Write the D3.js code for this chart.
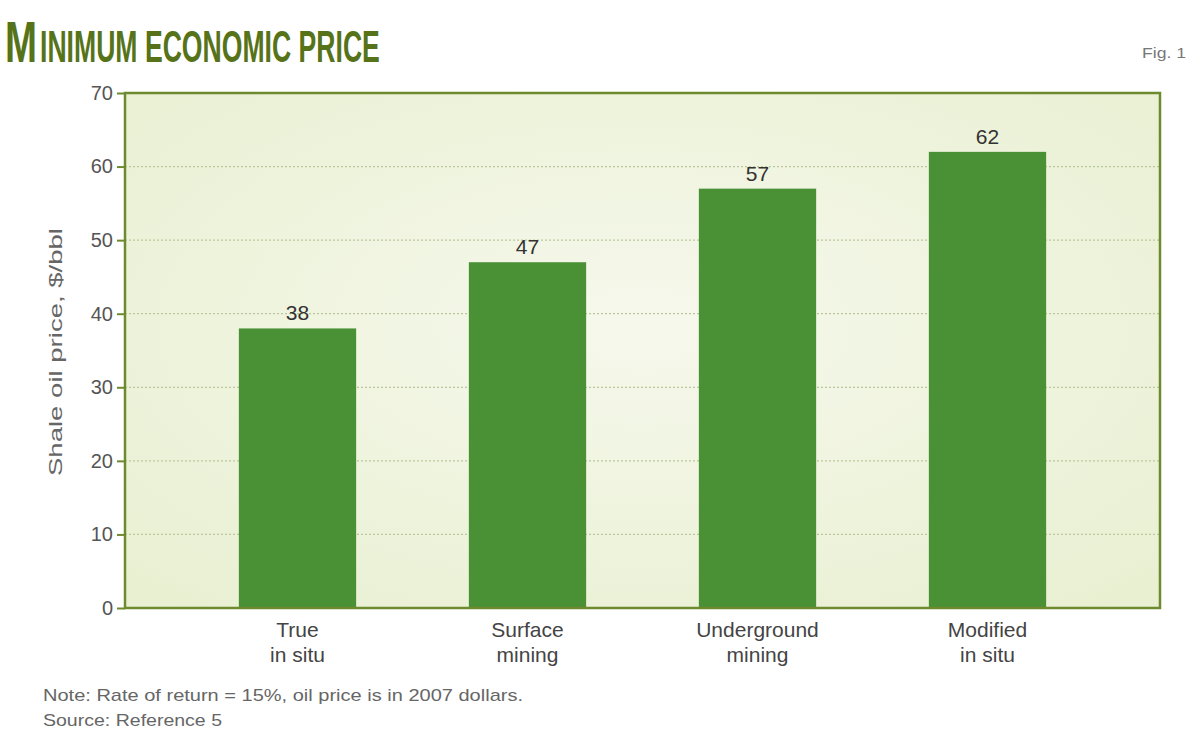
<!DOCTYPE html>
<html>
<head>
<meta charset="utf-8">
<script src="https://cdn.jsdelivr.net/npm/d3@7"></script>
<style>
  body { margin: 0; background: #fff; }
  text { font-family: "Liberation Sans", Arial, sans-serif; }
</style>
</head>
<body>
<div id="chart"></div>
<script>
const categories = [["True", "in situ"], ["Surface", "mining"], ["Underground", "mining"], ["Modified", "in situ"]];
const values = [38, 47, 57, 62];
const yTicks = [0, 10, 20, 30, 40, 50, 60, 70];

const width = 1200, height = 738;
const plotLeft = 125, plotRight = 1160, plotTop = 93, plotBottom = 608;
const narrow = "'DejaVu Sans Condensed', 'Liberation Sans Narrow', sans-serif";

const svg = d3.select("#chart").append("svg")
    .attr("width", width)
    .attr("height", height);

// background gradient for the plot area
const defs = svg.append("defs");
const grad = defs.append("radialGradient")
    .attr("id", "bg")
    .attr("cx", "50%").attr("cy", "45%").attr("r", "70%");
grad.append("stop").attr("offset", "0%").attr("stop-color", "#f6f8ec");
grad.append("stop").attr("offset", "100%").attr("stop-color", "#e9f0d2");

const x = d3.scaleBand()
    .domain(categories.map(d => d.join(" ")))
    .range([plotLeft, plotRight])
    .paddingInner(0.49)
    .paddingOuter(0.495);

const y = d3.scaleLinear()
    .domain([0, 70])
    .range([plotBottom, plotTop]);

svg.append("rect")
    .attr("x", plotLeft).attr("y", plotTop)
    .attr("width", plotRight - plotLeft).attr("height", plotBottom - plotTop)
    .attr("fill", "url(#bg)");

// dotted gridlines
svg.append("g")
    .selectAll("line")
    .data(yTicks.filter(d => d > 0 && d < 70))
    .enter()
    .append("line")
    .attr("x1", plotLeft).attr("x2", plotRight)
    .attr("y1", d => y(d)).attr("y2", d => y(d))
    .attr("stroke", "#b9c79a")
    .attr("stroke-width", 1.2)
    .attr("stroke-dasharray", "2,2");

// bars
svg.append("g")
    .selectAll("rect")
    .data(values)
    .enter()
    .append("rect")
    .attr("x", (d, i) => x(categories[i].join(" ")))
    .attr("y", d => y(d))
    .attr("width", x.bandwidth())
    .attr("height", d => plotBottom - y(d))
    .attr("fill", "#4a9136");

// value labels
svg.append("g")
    .selectAll("text")
    .data(values)
    .enter()
    .append("text")
    .attr("x", (d, i) => x(categories[i].join(" ")) + x.bandwidth() / 2)
    .attr("y", d => y(d) - 8)
    .attr("text-anchor", "middle")
    .attr("font-size", 21)
    .attr("fill", "#333")
    .text(d => d);

// frame
svg.append("rect")
    .attr("x", plotLeft).attr("y", plotTop)
    .attr("width", plotRight - plotLeft).attr("height", plotBottom - plotTop)
    .attr("fill", "none")
    .attr("stroke", "#6d8a2e")
    .attr("stroke-width", 2.5);

// y axis
const yAxis = svg.append("g")
    .attr("transform", `translate(${plotLeft},0)`)
    .call(d3.axisLeft(y).tickValues(yTicks).tickSize(8).tickPadding(4));
yAxis.select(".domain").remove();
yAxis.selectAll(".tick line").attr("stroke", "#6d8a2e").attr("stroke-width", 2);
yAxis.selectAll(".tick text")
    .attr("font-size", 20)
    .attr("fill", "#555")
    .attr("font-family", "Liberation Sans, Arial, sans-serif");

// category labels
const cats = svg.append("g")
    .selectAll("text")
    .data(categories)
    .enter()
    .append("text")
    .attr("x", d => x(d.join(" ")) + x.bandwidth() / 2)
    .attr("y", 637)
    .attr("text-anchor", "middle")
    .attr("font-size", 21)
    .attr("fill", "#444");
cats.append("tspan")
    .attr("x", d => x(d.join(" ")) + x.bandwidth() / 2)
    .text(d => d[0]);
cats.append("tspan")
    .attr("x", d => x(d.join(" ")) + x.bandwidth() / 2)
    .attr("dy", 25)
    .text(d => d[1]);

// y axis title
svg.append("text")
    .attr("transform", `translate(62,352) rotate(-90)`)
    .attr("text-anchor", "middle")
    .attr("font-size", 19)
    .attr("fill", "#666")
    .attr("textLength", 248)
    .attr("lengthAdjust", "spacingAndGlyphs")
    .text("Shale oil price, $/bbl");

// squeeze a text horizontally so it fills the given width
function fitText(sel, x0, y0, w) {
    const natural = sel.node().getComputedTextLength();
    sel.attr("transform", `translate(${x0},${y0}) scale(${w / natural},1)`);
}

// title, drawn as a large initial plus small caps
const titleM = svg.append("text")
    .attr("font-family", narrow)
    .attr("font-weight", "bold")
    .attr("font-size", 58)
    .attr("fill", "#56731a")
    .text("M");
fitText(titleM, 5, 62, 32);
const titleRest = svg.append("text")
    .attr("font-family", narrow)
    .attr("font-weight", "bold")
    .attr("font-size", 44)
    .attr("fill", "#56731a")
    .text("INIMUM ECONOMIC PRICE");
fitText(titleRest, 40, 62, 340);

svg.append("text")
    .attr("x", 1186).attr("y", 58)
    .attr("text-anchor", "end")
    .attr("font-family", narrow)
    .attr("font-size", 14)
    .attr("fill", "#777")
    .attr("textLength", 44)
    .attr("lengthAdjust", "spacingAndGlyphs")
    .text("Fig. 1");

// notes
svg.append("text")
    .attr("x", 43).attr("y", 701)
    .attr("font-family", narrow)
    .attr("font-size", 17)
    .attr("fill", "#666")
    .attr("textLength", 480)
    .attr("lengthAdjust", "spacingAndGlyphs")
    .text("Note: Rate of return = 15%, oil price is in 2007 dollars.");
svg.append("text")
    .attr("x", 43).attr("y", 726)
    .attr("font-family", narrow)
    .attr("font-size", 17)
    .attr("fill", "#666")
    .attr("textLength", 179)
    .attr("lengthAdjust", "spacingAndGlyphs")
    .text("Source: Reference 5");
</script>
</body>
</html>
